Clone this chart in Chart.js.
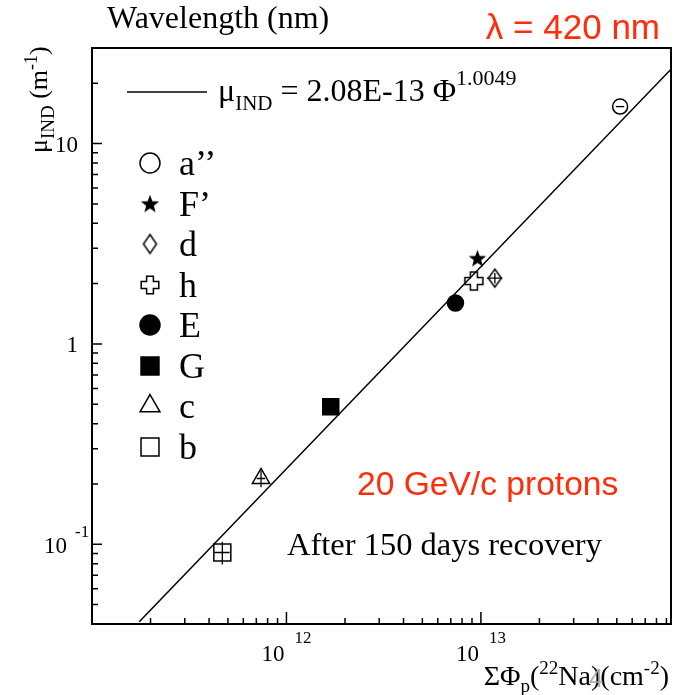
<!DOCTYPE html>
<html>
<head>
<meta charset="utf-8">
<script src="https://cdn.jsdelivr.net/npm/chart.js@4.4.1/dist/chart.umd.min.js"></script>
<style>
html, body { margin: 0; padding: 0; background: #fff; }
#wrap { width: 677px; height: 695px; }
</style>
</head>
<body>
<div id="wrap"><canvas id="muChart" width="677" height="695"></canvas></div>
<script>
// Induced absorption coefficient vs. integrated proton fluence at 420 nm
const sampleNames = ['a’’', 'F’', 'd', 'h', 'E', 'G', 'c', 'b'];
const fluence = [5.2e13, 9.6e12, 1.18e13, 9.2e12, 7.4e12, 1.69e12, 7.4e11, 4.68e11];
const muInd = [15.3, 2.68, 2.13, 2.06, 1.60, 0.486, 0.213, 0.091];
// relative errors (drawn as bars through the markers)
const fluenceErr = [0.05, 0, 0.09, 0, 0, 0, 0.05, 0.09];
const muErr = [0, 0, 0.06, 0, 0, 0, 0.095, 0.13];

// fitted power law mu = 2.08E-13 * Phi^1.0049, end points at the frame
const fitPhi = [1.75e11, 9.5e13];
const fitMu = [0.041, 23.5];

const xDecades = [12, 13];
const yLabels = [
    { v: 10, base: '10', exp: '' },
    { v: 1, base: '1', exp: '' },
    { v: 0.1, base: '10', exp: '-1' }
];

const SERIF = '"Liberation Serif", "Times New Roman", serif';
const SANS = '"Liberation Sans", Arial, sans-serif';
const RED = '#ff2d0a';

// --- custom marker shapes ---
function starCanvas(R) {
    const s = Math.ceil(R * 2 + 4), c = document.createElement('canvas');
    c.width = c.height = s;
    const g = c.getContext('2d'), cx = s / 2, cy = s / 2 + R * 0.1;
    g.beginPath();
    for (let k = 0; k < 10; k++) {
        const r = k % 2 ? R * 0.42 : R, a = -Math.PI / 2 + k * Math.PI / 5;
        g.lineTo(cx + r * Math.cos(a), cy + r * Math.sin(a));
    }
    g.closePath();
    g.fillStyle = '#000';
    g.fill();
    return c;
}

function diamondCanvas(hw, hh) {
    const c = document.createElement('canvas');
    c.width = Math.ceil(hw * 2 + 4);
    c.height = Math.ceil(hh * 2 + 4);
    const g = c.getContext('2d'), cx = c.width / 2, cy = c.height / 2;
    g.beginPath();
    g.moveTo(cx, cy - hh); g.lineTo(cx + hw, cy); g.lineTo(cx, cy + hh); g.lineTo(cx - hw, cy);
    g.closePath();
    g.lineWidth = 1.5;
    g.strokeStyle = '#000';
    g.stroke();
    return c;
}

function plusCanvas(h, a) {
    // outlined thick cross, half size h, half arm width a
    const s = Math.ceil(h * 2 + 4), c = document.createElement('canvas');
    c.width = c.height = s;
    const g = c.getContext('2d'), o = s / 2;
    const pts = [[-a, -h], [a, -h], [a, -a], [h, -a], [h, a], [a, a], [a, h], [-a, h], [-a, a], [-h, a], [-h, -a], [-a, -a]];
    g.beginPath();
    pts.forEach(([px, py]) => g.lineTo(o + px, o + py));
    g.closePath();
    g.lineWidth = 1.5;
    g.strokeStyle = '#000';
    g.stroke();
    return c;
}

const plotMarkers = [
    { pointStyle: 'circle', radius: 7.5, fill: 'rgba(0,0,0,0)' },
    { pointStyle: starCanvas(9.2), radius: 8, fill: '#000' },
    { pointStyle: diamondCanvas(6.5, 9), radius: 8, fill: 'rgba(0,0,0,0)' },
    { pointStyle: plusCanvas(9, 3.5), radius: 8, fill: 'rgba(0,0,0,0)' },
    { pointStyle: 'circle', radius: 8, fill: '#000' },
    { pointStyle: 'rect', radius: 11.3, fill: '#000' },
    { pointStyle: 'triangle', radius: 10, fill: 'rgba(0,0,0,0)' },
    { pointStyle: 'rect', radius: 12, fill: 'rgba(0,0,0,0)' }
];
const legendMarkers = [
    { pointStyle: 'circle', radius: 10, fill: 'rgba(0,0,0,0)' },
    { pointStyle: starCanvas(9.6), radius: 8, fill: '#000' },
    { pointStyle: diamondCanvas(6.5, 9.5), radius: 8, fill: 'rgba(0,0,0,0)' },
    { pointStyle: plusCanvas(8.8, 3.4), radius: 8, fill: 'rgba(0,0,0,0)' },
    { pointStyle: 'circle', radius: 10, fill: '#000' },
    { pointStyle: 'rect', radius: 12.7, fill: '#000' },
    { pointStyle: 'triangle', radius: 11.5, fill: 'rgba(0,0,0,0)' },
    { pointStyle: 'rect', radius: 12.7, fill: 'rgba(0,0,0,0)' }
];

// text made of runs with their own size and vertical shift (sub/superscripts)
function drawRuns(ctx, x, y, runs, align) {
    let w = 0;
    runs.forEach(r => { ctx.font = r.font; r.w = ctx.measureText(r.t).width; w += r.w; });
    let cx = align === 'right' ? x - w : align === 'center' ? x - w / 2 : x;
    ctx.textAlign = 'left';
    ctx.textBaseline = 'alphabetic';
    runs.forEach(r => {
        ctx.font = r.font;
        ctx.fillStyle = r.color || '#000';
        ctx.fillText(r.t, cx, y + (r.dy || 0));
        cx += r.w;
    });
}

const serif = px => px + 'px ' + SERIF;
const sans = px => px + 'px ' + SANS;

const errorBars = {
    id: 'errorBars',
    afterDatasetsDraw(chart) {
        const { ctx, scales: { x, y } } = chart;
        ctx.save();
        ctx.strokeStyle = '#000';
        ctx.lineWidth = 1.3;
        fluence.forEach((f, i) => {
            const px = x.getPixelForValue(f), py = y.getPixelForValue(muInd[i]);
            ctx.beginPath();
            if (fluenceErr[i] > 0) {
                ctx.moveTo(x.getPixelForValue(f * (1 - fluenceErr[i])), py);
                ctx.lineTo(x.getPixelForValue(f * (1 + fluenceErr[i])), py);
            }
            if (muErr[i] > 0) {
                ctx.moveTo(px, y.getPixelForValue(muInd[i] * (1 - muErr[i])));
                ctx.lineTo(px, y.getPixelForValue(muInd[i] * (1 + muErr[i])));
            }
            ctx.stroke();
        });
        ctx.restore();
    }
};

const frame = {
    id: 'frame',
    afterDraw(chart) {
        const { ctx, chartArea: a, scales: { x, y } } = chart;
        ctx.save();
        ctx.strokeStyle = '#000';
        ctx.lineWidth = 2;
        ctx.strokeRect(a.left, a.top, a.right - a.left, a.bottom - a.top);

        // ticks point inward from the bottom and left edges
        ctx.lineWidth = 1.5;
        ctx.beginPath();
        for (let e = 11; e <= 13; e++) {
            for (let m = 1; m <= 9; m++) {
                const v = m * Math.pow(10, e);
                if (v <= x.min || v >= x.max) continue;
                const px = x.getPixelForValue(v);
                ctx.moveTo(px, a.bottom);
                ctx.lineTo(px, a.bottom - (m === 1 ? 12 : 6));
            }
        }
        for (let e = -2; e <= 1; e++) {
            for (let m = 1; m <= 9; m++) {
                const v = m * Math.pow(10, e);
                if (v <= y.min || v >= y.max) continue;
                const py = y.getPixelForValue(v);
                ctx.moveTo(a.left, py);
                ctx.lineTo(a.left + (m === 1 ? 10 : 6), py);
            }
        }
        ctx.stroke();

        // tick labels
        xDecades.forEach(e => {
            const px = x.getPixelForValue(Math.pow(10, e));
            drawRuns(ctx, px - 2, 661, [{ t: '10', font: serif(23) }], 'right');
            drawRuns(ctx, px + 8, 643, [{ t: String(e), font: serif(17) }], 'left');
        });
        yLabels.forEach(l => {
            const py = y.getPixelForValue(l.v);
            if (l.exp) {
                drawRuns(ctx, 67, py + 9, [{ t: l.base, font: serif(23) }], 'right');
                drawRuns(ctx, 75, py - 7, [{ t: l.exp, font: serif(17) }], 'left');
            } else {
                drawRuns(ctx, 78, py + 8, [{ t: l.base, font: serif(23) }], 'right');
            }
        });

        // axis titles
        drawRuns(ctx, 669, 685, [
            { t: 'ΣΦ', font: serif(28) },
            { t: 'p', font: serif(19), dy: 7 },
            { t: '(', font: serif(28) },
            { t: '22', font: serif(19), dy: -11 },
            { t: 'Na)', font: serif(28) },
            { t: '(cm', font: serif(28) },
            { t: '-2', font: serif(19), dy: -11 },
            { t: ')', font: serif(28) }
        ], 'right');
        drawRuns(ctx, 589, 687, [{ t: '4', font: sans(26), color: 'rgba(165,165,165,0.9)' }], 'left');

        ctx.save();
        ctx.translate(46.5, 153);
        ctx.rotate(-Math.PI / 2);
        drawRuns(ctx, 0, 0, [
            { t: 'μ', font: serif(26) },
            { t: 'IND', font: serif(19), dy: 7 },
            { t: ' (m', font: serif(26) },
            { t: '-1', font: serif(18), dy: -10 },
            { t: ')', font: serif(26) }
        ], 'left');
        ctx.restore();

        // header texts
        drawRuns(ctx, 107, 28, [{ t: 'Wavelength (nm)', font: serif(32) }], 'left');
        drawRuns(ctx, 660, 39, [{ t: 'λ = 420 nm', font: sans(35), color: RED }], 'right');

        // fit legend entry
        ctx.lineWidth = 1.5;
        ctx.beginPath();
        ctx.moveTo(127, 92);
        ctx.lineTo(207, 92);
        ctx.stroke();
        drawRuns(ctx, 218, 101, [
            { t: 'μ', font: serif(32) },
            { t: 'IND', font: serif(21), dy: 9 },
            { t: ' = 2.08E-13 Φ', font: serif(32) },
            { t: '1.0049', font: serif(22), dy: -16 }
        ], 'left');

        // sample legend
        const rows = [163, 203.5, 244, 285, 325, 366, 406, 447];
        sampleNames.forEach((name, i) => {
            const mk = legendMarkers[i];
            ctx.fillStyle = mk.fill;
            ctx.strokeStyle = '#000';
            ctx.lineWidth = 1.5;
            Chart.helpers.drawPoint(ctx, { pointStyle: mk.pointStyle, radius: mk.radius, borderWidth: 1.5, rotation: 0 }, 150, rows[i]);
            drawRuns(ctx, 179, rows[i] + 12, [{ t: name, font: serif(36) }], 'left');
        });

        // annotations
        drawRuns(ctx, 357, 495, [{ t: '20 GeV/c protons', font: sans(33.6), color: RED }], 'left');
        drawRuns(ctx, 287, 555, [{ t: 'After 150 days recovery', font: serif(32.5) }], 'left');
        ctx.restore();
    }
};

const datasets = [{
    type: 'line',
    label: 'fit',
    data: fitPhi.map((f, i) => ({ x: f, y: fitMu[i] })),
    borderColor: '#000',
    borderWidth: 1.5,
    pointRadius: 0,
    fill: false,
    tension: 0
}].concat(sampleNames.map((name, i) => ({
    type: 'scatter',
    label: name,
    data: [{ x: fluence[i], y: muInd[i] }],
    pointStyle: plotMarkers[i].pointStyle,
    pointRadius: plotMarkers[i].radius,
    backgroundColor: plotMarkers[i].fill,
    borderColor: '#000',
    borderWidth: 1.5
})));

new Chart(document.getElementById('muChart').getContext('2d'), {
    type: 'scatter',
    data: { datasets },
    options: {
        responsive: false,
        animation: false,
        layout: { autoPadding: false, padding: { left: 92, right: 6, top: 48, bottom: 71 } },
        scales: {
            x: { type: 'logarithmic', min: 1e11, max: 9.5e13, display: false },
            y: { type: 'logarithmic', min: 0.04, max: 30, display: false }
        },
        plugins: { legend: { display: false }, tooltip: { enabled: false } }
    },
    plugins: [errorBars, frame]
});
</script>
</body>
</html>
